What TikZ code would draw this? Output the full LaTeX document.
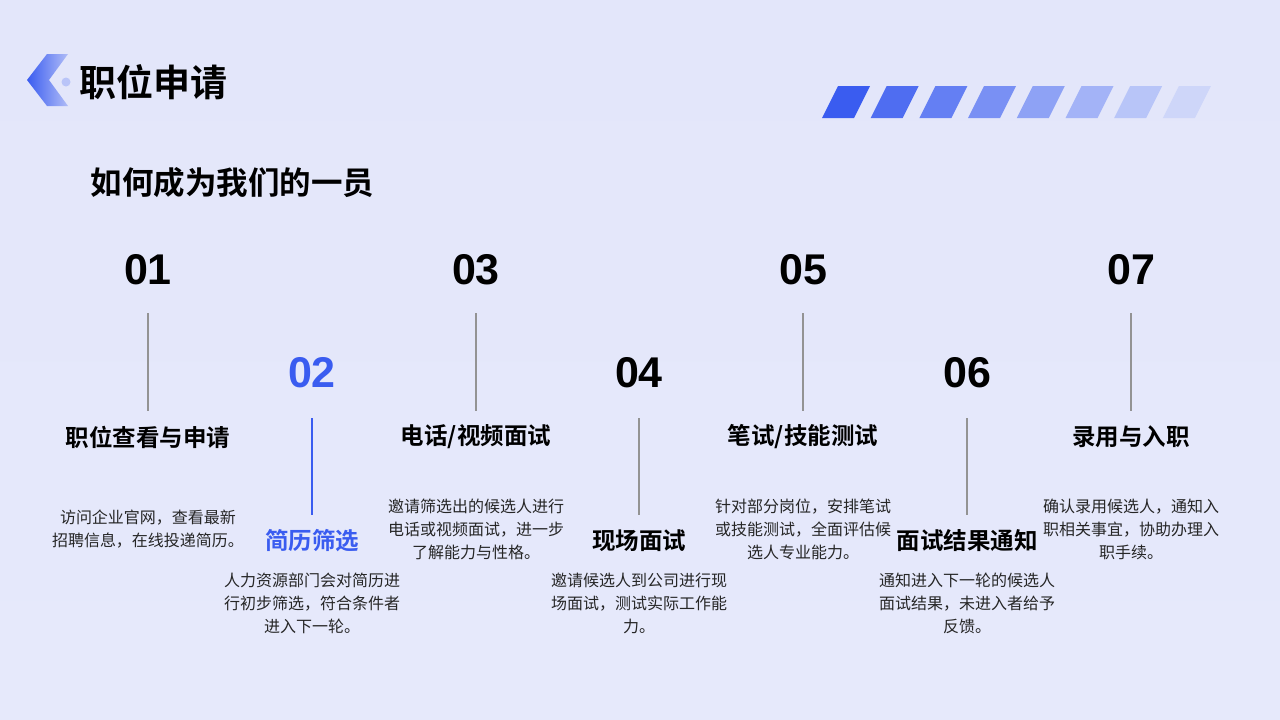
\documentclass[tikz,border=0pt]{standalone}
\usepackage{fontspec}
\setmainfont{Noto Sans CJK SC}
\newfontfamily\cjkb{Noto Sans CJK SC Bold}
\newfontfamily\numf{Liberation Sans}
\begin{document}
\begin{tikzpicture}[x=1pt,y=-1pt,
  num/.style={font=\numf\bfseries\fontsize{43}{43}\selectfont},
  head/.style={font=\cjkb\fontsize{23.5}{26}\selectfont},
  body/.style={font=\fontsize{16}{23}\selectfont,align=center,text=black!85},
  vline/.style={draw=gray!85,line width=1.2pt}]
\definecolor{bluem}{HTML}{3A5CF0}
\definecolor{bgtop}{HTML}{E3E6FA}
\definecolor{bgbot}{HTML}{E6E9FB}
\definecolor{stlast}{HTML}{DCE2FA}
\shade[top color=bgtop, bottom color=bgbot] (0,0) rectangle (1280,720);
\useasboundingbox (0,0) rectangle (1280,720);
% chevron
\shade[left color=bluem, right color=bluem!30!bgtop] (47,54) -- (68,54) -- (49,80) -- (68,106) -- (47,106) -- (27,80) -- cycle;
\fill[bluem!25!bgtop] (66,82) circle (4.5);
\node[font=\cjkb\fontsize{37}{38}\selectfont,anchor=west] (title) at (76,82) {职位申请};
% stripes
\foreach \i in {0,...,7}{
  \pgfmathsetmacro\op{100-\i*13}
  \fill[bluem!\op!stlast] (838+\i*48.7,86) -- (870+\i*48.7,86) -- (854+\i*48.7,118) -- (822+\i*48.7,118) -- cycle;}
\node[font=\cjkb\fontsize{31.5}{33}\selectfont,anchor=west] (sub) at (87,183) {如何成为我们的一员};
% odd columns
\foreach \n/\x/\h in {01/148/{职位查看与申请},03/476/{电话/视频面试},05/803/{笔试/技能测试},07/1131/{录用与入职}}{
  \node[num] (n\n) at (\x,270) {\n};
  \coordinate (a\n) at (\x,313); \coordinate (b\n) at (\x,411);
  \draw[vline] (a\n) -- (b\n);
  \node[head] (h\n) at (\x,437) {\h};}
\foreach \n/\x/\h in {04/639/{现场面试},06/967/{面试结果通知}}{
  \node[num] (n\n) at (\x,373) {\n};
  \coordinate (a\n) at (\x,418); \coordinate (b\n) at (\x,515);
  \draw[vline] (a\n) -- (b\n);
  \node[head] (h\n) at (\x,541) {\h};}
\node[num,text=bluem] (n02) at (312,373) {02};
\coordinate (a02) at (312,418); \coordinate (b02) at (312,515);
\draw[vline,draw=bluem] (a02) -- (b02);
\node[head,text=bluem] (h02) at (312,541) {简历筛选};
% bodies
\node[body] (t01) at (148,529) {访问企业官网，查看最新\\招聘信息，在线投递简历。};
\node[body] (t03) at (476,529) {邀请筛选出的候选人进行\\电话或视频面试，进一步\\了解能力与性格。};
\node[body] (t05) at (803,529) {针对部分岗位，安排笔试\\或技能测试，全面评估候\\选人专业能力。};
\node[body] (t07) at (1131,529) {确认录用候选人，通知入\\职相关事宜，协助办理入\\职手续。};
\node[body] (t02) at (312,603) {人力资源部门会对简历进\\行初步筛选，符合条件者\\进入下一轮。};
\node[body] (t04) at (639,603) {邀请候选人到公司进行现\\场面试，测试实际工作能\\力。};
\node[body] (t06) at (967,603) {通知进入下一轮的候选人\\面试结果，未进入者给予\\反馈。};
\end{tikzpicture}
\end{document}
